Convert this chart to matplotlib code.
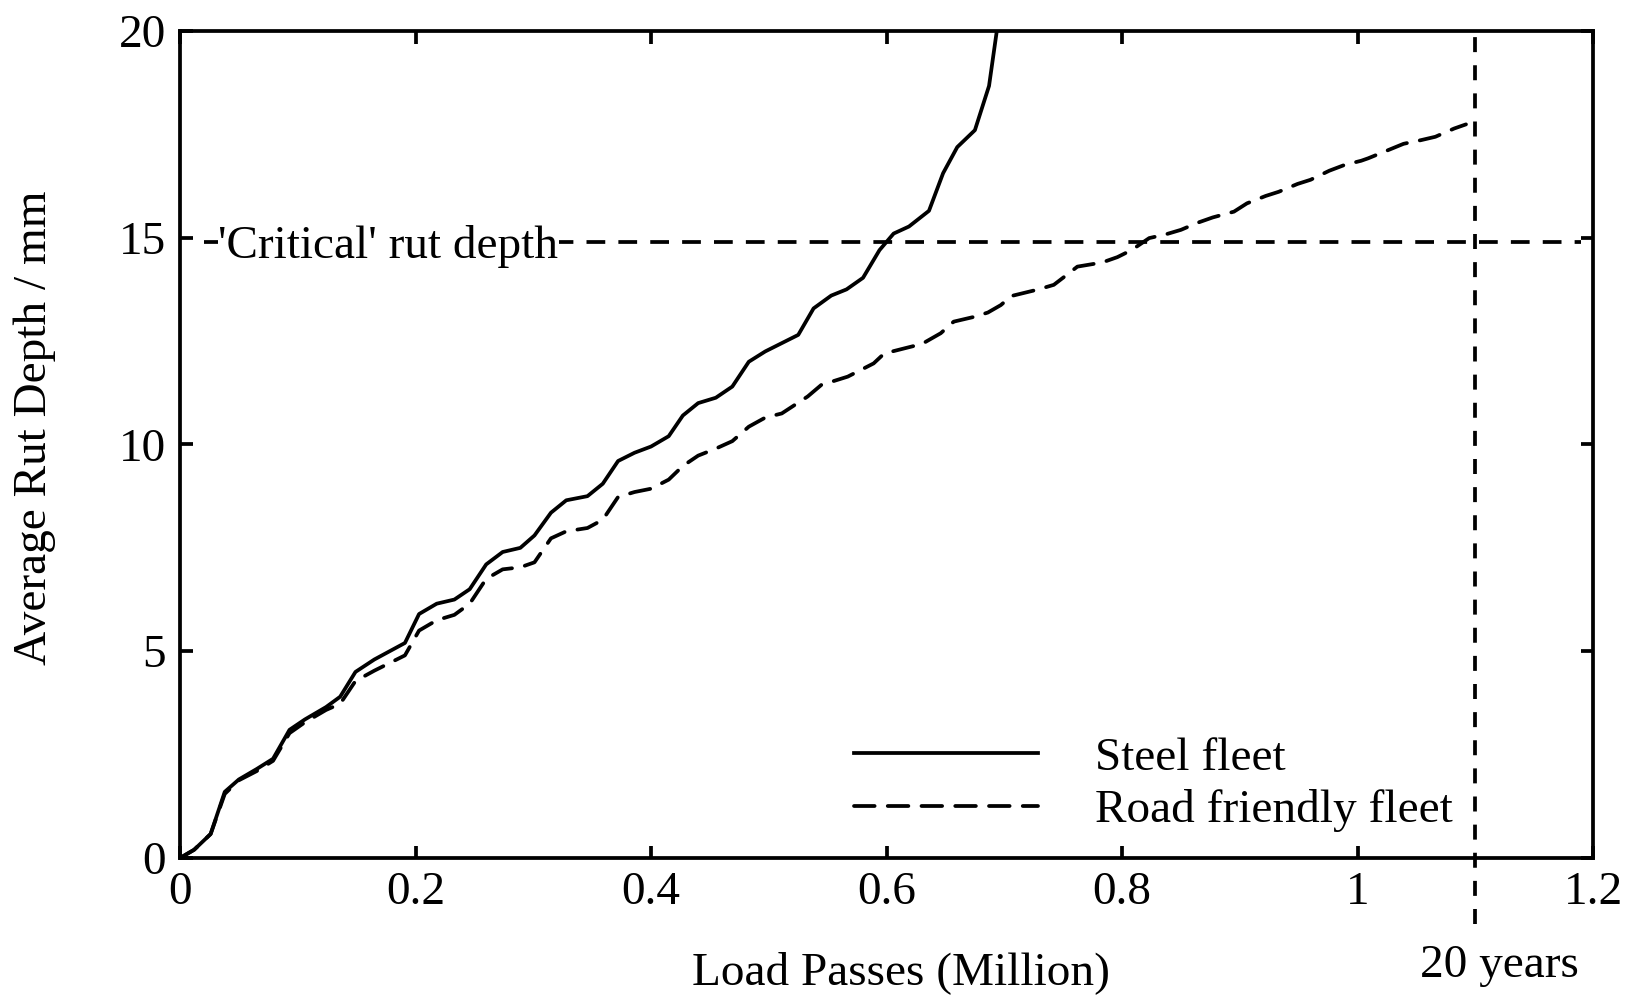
import matplotlib
matplotlib.use("Agg")
import matplotlib.pyplot as plt

plt.rcParams['font.family'] = ['Liberation Serif', 'DejaVu Serif']

# Steel fleet (load passes in million, rut depth in mm)
steel_x = [0.0, 0.012, 0.026, 0.038, 0.05, 0.065, 0.079, 0.093, 0.106, 0.124, 0.136,
           0.149, 0.165, 0.191, 0.203, 0.218, 0.233, 0.246, 0.26, 0.274, 0.289, 0.301,
           0.315, 0.328, 0.346, 0.359, 0.372, 0.386, 0.4, 0.415, 0.427, 0.44, 0.455,
           0.469, 0.483, 0.497, 0.511, 0.525, 0.538, 0.553, 0.566, 0.58, 0.594, 0.606,
           0.619, 0.636, 0.648, 0.660, 0.675, 0.687, 0.6936]
steel_y = [0.0, 0.2, 0.58, 1.6, 1.9, 2.15, 2.4, 3.1, 3.35, 3.65, 3.9,
           4.5, 4.8, 5.2, 5.9, 6.15, 6.25, 6.5, 7.1, 7.4, 7.5, 7.8,
           8.35, 8.65, 8.75, 9.05, 9.6, 9.8, 9.95, 10.2, 10.7, 11.0, 11.13,
           11.4, 12.0, 12.25, 12.45, 12.65, 13.29, 13.6, 13.75, 14.03, 14.7, 15.1,
           15.27, 15.65, 16.56, 17.19, 17.6, 18.67, 20.0]

# Road friendly fleet
road_x = [0.0, 0.012, 0.026, 0.038, 0.05, 0.065, 0.079, 0.093, 0.106, 0.124, 0.136,
          0.149, 0.165, 0.191, 0.203, 0.218, 0.233, 0.246, 0.26, 0.274, 0.289, 0.301,
          0.315, 0.328, 0.346, 0.359, 0.372, 0.386, 0.4, 0.415, 0.427, 0.44, 0.455,
          0.469, 0.483, 0.497, 0.511, 0.533, 0.5446, 0.567, 0.589, 0.598, 0.616, 0.630,
          0.646, 0.657, 0.675, 0.686, 0.697, 0.706, 0.729, 0.742, 0.753, 0.762, 0.783,
          0.796, 0.808, 0.823, 0.837, 0.85, 0.864, 0.877, 0.895, 0.906, 0.922, 0.933,
          0.949, 0.96, 0.976, 0.989, 1.003, 1.009, 1.027, 1.039, 1.054, 1.066, 1.082,
          1.092]
road_y = [0.0, 0.2, 0.58, 1.55, 1.88, 2.1, 2.35, 3.02, 3.28, 3.58, 3.73,
          4.28, 4.53, 4.9, 5.5, 5.75, 5.88, 6.15, 6.75, 6.98, 7.03, 7.15,
          7.73, 7.9, 7.98, 8.18, 8.73, 8.85, 8.93, 9.15, 9.48, 9.73, 9.9,
          10.08, 10.43, 10.65, 10.75, 11.16, 11.44, 11.64, 11.96, 12.2, 12.33, 12.43,
          12.69, 12.97, 13.09, 13.19, 13.37, 13.59, 13.75, 13.86, 14.1, 14.3, 14.4,
          14.53, 14.7, 14.99, 15.08, 15.19, 15.36, 15.49, 15.63, 15.83, 16.01, 16.11,
          16.3, 16.4, 16.62, 16.76, 16.86, 16.92, 17.13, 17.27, 17.36, 17.44, 17.64,
          17.74]

critical_depth = 14.9
twenty_years = 1.1
x_ticks = [0, 0.2, 0.4, 0.6, 0.8, 1, 1.2]
x_tick_labels = ["0", "0.2", "0.4", "0.6", "0.8", "1", "1.2"]
y_ticks = [0, 5, 10, 15, 20]

FS = 34
LW = 2.7

fig = plt.figure(figsize=(16.29, 9.97), dpi=100)
ax = fig.add_axes([0.1105, 0.1394, 0.978 - 0.1105, 0.969 - 0.1394])

ax.plot(steel_x, steel_y, color='black', lw=LW, solid_joinstyle='round',
        label='Steel fleet')
ax.plot(road_x, road_y, color='black', lw=LW, dashes=(5.5, 3.5),
        dash_capstyle='round', label='Road friendly fleet')

# critical rut depth line
ax.hlines(critical_depth, 0.02, 1.19, colors='black', lw=LW,
          linestyles=(0, (5, 3.5)))
ax.text(0.0326, 14.78, "'Critical' rut depth", fontsize=FS, va='center',
        ha='left', zorder=5,
        bbox=dict(facecolor='white', edgecolor='none', pad=0.5))

# 20 years line
ax.vlines(twenty_years, -1.6, 19.85, colors='black', lw=LW,
          linestyles=(0, (4, 3.5)), clip_on=False)
ax.text(twenty_years + 0.02, -2.6, "20 years", fontsize=FS, ha='center',
        va='center', clip_on=False)

ax.set_xlim(0, 1.2)
ax.set_ylim(0, 20)
ax.set_xticks(x_ticks)
ax.set_xticklabels(x_tick_labels)
ax.set_yticks(y_ticks)
ax.tick_params(direction='in', length=9, width=LW, labelsize=FS,
               top=True, right=True, pad=10)
for sp in ax.spines.values():
    sp.set_linewidth(LW)

ax.set_xlabel("Load Passes (Million)", fontsize=FS)
ax.set_ylabel("Average Rut Depth / mm", fontsize=FS)
ax.xaxis.set_label_coords(0.51, -0.113)
ax.yaxis.set_label_coords(-0.088, 0.52)

ax.legend(loc='lower left', bbox_to_anchor=(0.447, -0.02), frameon=False,
          fontsize=FS, handlelength=3.9, handletextpad=1.2, labelspacing=0.2)

fig.savefig("out.png", dpi=100)
